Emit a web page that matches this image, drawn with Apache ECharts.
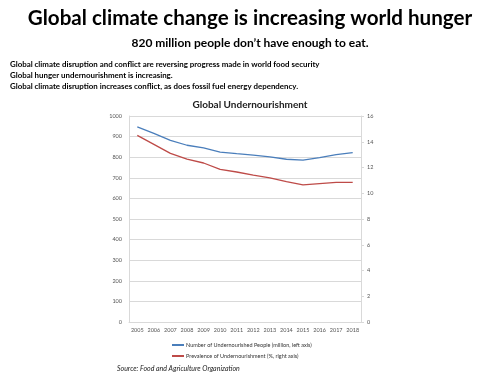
<!DOCTYPE html>
<html>
<head>
<meta charset="utf-8">
<script src="https://cdn.jsdelivr.net/npm/echarts@6/dist/echarts.min.js"></script>
<style>
  html, body { margin: 0; padding: 0; background: #fff; }
  #main { width: 500px; height: 375px; }
</style>
</head>
<body>
<div id="main"></div>
<script>
// data
const years = ['2005','2006','2007','2008','2009','2010','2011','2012','2013','2014','2015','2016','2017','2018'];
const undernourished = [947, 916, 882, 858, 845, 825, 817, 810, 802, 790, 786, 798, 812, 822];
const prevalence = [14.5, 13.8, 13.1, 12.65, 12.35, 11.85, 11.65, 11.4, 11.2, 10.9, 10.65, 10.75, 10.85, 10.85];
const notes = [
  'Global climate disruption and conflict are reversing progress made in world food security',
  'Global hunger undernourishment is increasing.',
  'Global climate disruption increases conflict, as does fossil fuel energy dependency.'
];

const font = 'Lato';
var myChart = echarts.init(document.getElementById('main'));

var option = {
  backgroundColor: '#fff',
  animation: false,
  textStyle: { fontFamily: font },
  title: [
    {
      text: 'Global climate change is increasing world hunger',
      left: 'center', top: 3,
      textStyle: { fontSize: 20.6, fontWeight: 'bold', color: '#000', fontFamily: font }
    },
    {
      text: '820 million people don\u2019t have enough to eat.',
      left: 'center', top: 32,
      textStyle: { fontSize: 12, fontWeight: 'bold', color: '#000', fontFamily: font }
    },
    {
      text: notes.join('\n'),
      left: 5, top: 54,
      textStyle: { fontSize: 7.9, fontWeight: 'bold', color: '#000', lineHeight: 11, fontFamily: font }
    },
    {
      text: 'Global Undernourishment',
      left: 'center', top: 95,
      textStyle: { fontSize: 10, fontWeight: 'bold', color: '#222', fontFamily: font }
    },
    {
      text: 'Source: Food and Agriculture Organization',
      left: 112, top: 360,
      textStyle: { fontSize: 7, fontStyle: 'italic', fontWeight: 'normal', color: '#222', fontFamily: font }
    }
  ],
  legend: {
    orient: 'vertical',
    left: 167, top: 337,
    itemWidth: 12, itemHeight: 2, itemGap: 5,
    icon: 'rect',
    textStyle: { fontSize: 5.5, color: '#333', padding: [0, 0, 0, -3] },
    data: ['Number of Undernourished People (million, left axis)', 'Prevalence of Undernourishment (%, right axis)']
  },
  grid: { left: 129, right: 139, top: 116, height: 206 },
  xAxis: {
    type: 'category',
    data: years,
    boundaryGap: true,
    axisLine: { lineStyle: { color: '#d9d9d9' } },
    axisTick: { show: false },
    axisLabel: { fontSize: 5.5, color: '#555', margin: 5, interval: 0 }
  },
  yAxis: [
    {
      type: 'value', min: 0, max: 1000, interval: 100,
      axisLine: { show: true, lineStyle: { color: '#d9d9d9' } },
      axisTick: { show: false },
      axisLabel: { fontSize: 5.5, color: '#555', margin: 7, formatter: v => String(v) },
      splitLine: { lineStyle: { color: '#d9d9d9' } }
    },
    {
      type: 'value', min: 0, max: 16, interval: 2,
      position: 'right',
      axisLine: { show: true, lineStyle: { color: '#d9d9d9' } },
      axisTick: { show: true, length: 3, lineStyle: { color: '#d9d9d9' } },
      axisLabel: { fontSize: 5.5, color: '#555', margin: 6 },
      splitLine: { show: false }
    }
  ],
  series: [
    {
      name: 'Number of Undernourished People (million, left axis)',
      type: 'line', yAxisIndex: 0,
      data: undernourished,
      symbol: 'none',
      lineStyle: { color: '#4a7ebb', width: 1.3 },
      itemStyle: { color: '#4a7ebb' }
    },
    {
      name: 'Prevalence of Undernourishment (%, right axis)',
      type: 'line', yAxisIndex: 1,
      data: prevalence,
      symbol: 'none',
      lineStyle: { color: '#be4b48', width: 1.3 },
      itemStyle: { color: '#be4b48' }
    }
  ]
};

option && myChart.setOption(option);
</script>
</body>
</html>
